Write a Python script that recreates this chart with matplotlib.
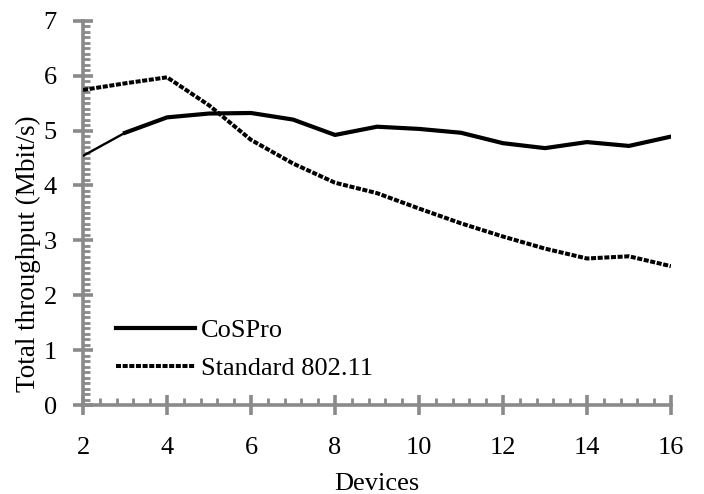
import numpy as np
import matplotlib
matplotlib.use("Agg")
import matplotlib.pyplot as plt
from matplotlib.ticker import MultipleLocator

plt.rcParams['font.family'] = ['Liberation Serif', 'DejaVu Serif']

devices = [2, 3, 4, 5, 6, 7, 8, 9, 10, 11, 12, 13, 14, 15, 16]
cospro = [4.54, 4.96, 5.24, 5.31, 5.32, 5.20, 4.92, 5.07, 5.03, 4.96, 4.77, 4.68, 4.79, 4.72, 4.89]
standard = [5.74, 5.86, 5.97, 5.46, 4.83, 4.40, 4.05, 3.86, 3.58, 3.31, 3.07, 2.85, 2.67, 2.71, 2.53]

axis_grey = '#8a8a8a'

fig = plt.figure(figsize=(7.04, 4.94), dpi=100)
ax = fig.add_axes([0.118, 0.180, 0.835, 0.778])

# first segment of the CoSPro curve is thinner in the original
ax.plot(devices[:2], cospro[:2], color='black', lw=1.7, solid_capstyle='round')
ax.plot(devices[1:], cospro[1:], color='black', lw=3.0, solid_joinstyle='round', label='CoSPro')
ax.plot(devices, standard, color='black', lw=2.9, linestyle=(0, (1.25, 0.4)), label='Standard 802.11')

ax.set_xlim(2, 16)
ax.set_ylim(0, 7)
ax.xaxis.set_major_locator(MultipleLocator(2))
ax.xaxis.set_minor_locator(MultipleLocator(0.4))
ax.yaxis.set_major_locator(MultipleLocator(1))
ax.yaxis.set_minor_locator(MultipleLocator(0.1))

for side in ['top', 'right']:
    ax.spines[side].set_visible(False)
for side in ['left', 'bottom']:
    ax.spines[side].set_color(axis_grey)
    ax.spines[side].set_linewidth(2.6)
    ax.spines[side].set_zorder(0)

ax.tick_params(which='major', direction='inout', length=14, width=2.6, color=axis_grey, labelsize=19)
ax.tick_params(which='minor', direction='in', length=5, width=2.0, color=axis_grey)
ax.tick_params(axis='x', which='major', pad=16)
ax.tick_params(axis='y', which='major', pad=12)

ax.set_xlabel('Devices', fontsize=19, labelpad=10)
ax.set_ylabel('Total throughput (Mbit/s)', fontsize=19.5)
ax.yaxis.set_label_coords(-0.072, 0.393)

handles, labels = ax.get_legend_handles_labels()
ax.legend(handles, labels, loc='lower left', bbox_to_anchor=(0.033, 0.03), frameon=False,
          fontsize=19, handlelength=3.0, handletextpad=0.22, labelspacing=0.55, borderpad=0)

fig.savefig('out.png', dpi=100)
